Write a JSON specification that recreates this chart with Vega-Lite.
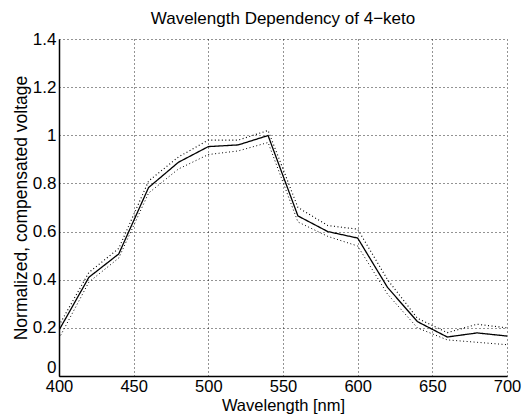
{
  "$schema": "https://vega.github.io/schema/vega-lite/v6.json",
  "autosize": "none",
  "padding": {"left": 59, "top": 39, "right": 20, "bottom": 41},
  "width": 448,
  "height": 337,
  "title": {"text": "Wavelength Dependency of 4−keto", "font": "Liberation Sans", "fontSize": 17, "fontWeight": "normal", "color": "black", "offset": 2},
  "config": {"view": {"stroke": null}, "background": "white"},
  "data": {"values": [
    {"wl": 400, "v": 0.19, "s": "mean"}, {"wl": 420, "v": 0.41, "s": "mean"}, {"wl": 440, "v": 0.507, "s": "mean"},
    {"wl": 460, "v": 0.783, "s": "mean"}, {"wl": 480, "v": 0.888, "s": "mean"}, {"wl": 500, "v": 0.953, "s": "mean"},
    {"wl": 520, "v": 0.96, "s": "mean"}, {"wl": 540, "v": 0.999, "s": "mean"}, {"wl": 560, "v": 0.665, "s": "mean"},
    {"wl": 580, "v": 0.60, "s": "mean"}, {"wl": 600, "v": 0.573, "s": "mean"}, {"wl": 620, "v": 0.368, "s": "mean"},
    {"wl": 640, "v": 0.226, "s": "mean"}, {"wl": 660, "v": 0.162, "s": "mean"}, {"wl": 680, "v": 0.179, "s": "mean"},
    {"wl": 700, "v": 0.166, "s": "mean"},
    {"wl": 400, "v": 0.21, "s": "upper"}, {"wl": 420, "v": 0.43, "s": "upper"}, {"wl": 440, "v": 0.53, "s": "upper"},
    {"wl": 460, "v": 0.81, "s": "upper"}, {"wl": 480, "v": 0.91, "s": "upper"}, {"wl": 500, "v": 0.98, "s": "upper"},
    {"wl": 520, "v": 0.98, "s": "upper"}, {"wl": 540, "v": 1.02, "s": "upper"}, {"wl": 560, "v": 0.70, "s": "upper"},
    {"wl": 580, "v": 0.625, "s": "upper"}, {"wl": 600, "v": 0.61, "s": "upper"}, {"wl": 620, "v": 0.40, "s": "upper"},
    {"wl": 640, "v": 0.24, "s": "upper"}, {"wl": 660, "v": 0.18, "s": "upper"}, {"wl": 680, "v": 0.215, "s": "upper"},
    {"wl": 700, "v": 0.20, "s": "upper"},
    {"wl": 400, "v": 0.156, "s": "lower"}, {"wl": 420, "v": 0.39, "s": "lower"}, {"wl": 440, "v": 0.49, "s": "lower"},
    {"wl": 460, "v": 0.76, "s": "lower"}, {"wl": 480, "v": 0.86, "s": "lower"}, {"wl": 500, "v": 0.92, "s": "lower"},
    {"wl": 520, "v": 0.935, "s": "lower"}, {"wl": 540, "v": 0.97, "s": "lower"}, {"wl": 560, "v": 0.64, "s": "lower"},
    {"wl": 580, "v": 0.58, "s": "lower"}, {"wl": 600, "v": 0.54, "s": "lower"}, {"wl": 620, "v": 0.34, "s": "lower"},
    {"wl": 640, "v": 0.20, "s": "lower"}, {"wl": 660, "v": 0.15, "s": "lower"}, {"wl": 680, "v": 0.14, "s": "lower"},
    {"wl": 700, "v": 0.13, "s": "lower"}
  ]},
  "mark": {"type": "line", "color": "black", "clip": true},
  "encoding": {
    "x": {"field": "wl", "type": "quantitative", "scale": {"domain": [400, 700], "nice": false, "zero": false},
      "axis": {"values": [400, 450, 500, 550, 600, 650, 700], "title": "Wavelength [nm]", "titleFont": "Liberation Sans", "titleFontSize": 16.5, "titleFontWeight": "normal", "titleColor": "black", "titlePadding": 3,
        "labelFont": "Liberation Sans", "labelFontSize": 16.5, "labelColor": "black", "labelPadding": 2, "labelFlush": false,
        "ticks": false, "domainColor": "black", "domainWidth": 1.5,
        "grid": true, "gridColor": "black", "gridDash": [1, 3], "gridOpacity": 0.85}},
    "y": {"field": "v", "type": "quantitative", "scale": {"domain": [0, 1.4], "nice": false},
      "axis": {"values": [0, 0.2, 0.4, 0.6, 0.8, 1, 1.2, 1.4], "labelExpr": "datum.value", "title": "Normalized, compensated voltage", "titleFont": "Liberation Sans", "titleFontSize": 17.5, "titleFontWeight": "normal", "titleColor": "black", "titlePadding": 2,
        "labelFont": "Liberation Sans", "labelFontSize": 17, "labelColor": "black", "labelPadding": 3, "labelFlush": false,
        "labelBaseline": {"condition": {"test": "datum.value === 0", "value": "bottom"}, "value": "middle"},
        "ticks": false, "domainColor": "black", "domainWidth": 1.5,
        "grid": true, "gridColor": "black", "gridDash": [1, 3], "gridOpacity": 0.85}},
    "detail": {"field": "s"},
    "strokeDash": {"field": "s", "type": "nominal", "scale": {"domain": ["mean", "upper", "lower"], "range": [[1, 0], [1, 2.5], [1, 2.5]]}, "legend": null},
    "strokeWidth": {"field": "s", "type": "nominal", "scale": {"domain": ["mean", "upper", "lower"], "range": [1.3, 1, 1]}, "legend": null}
  }
}
